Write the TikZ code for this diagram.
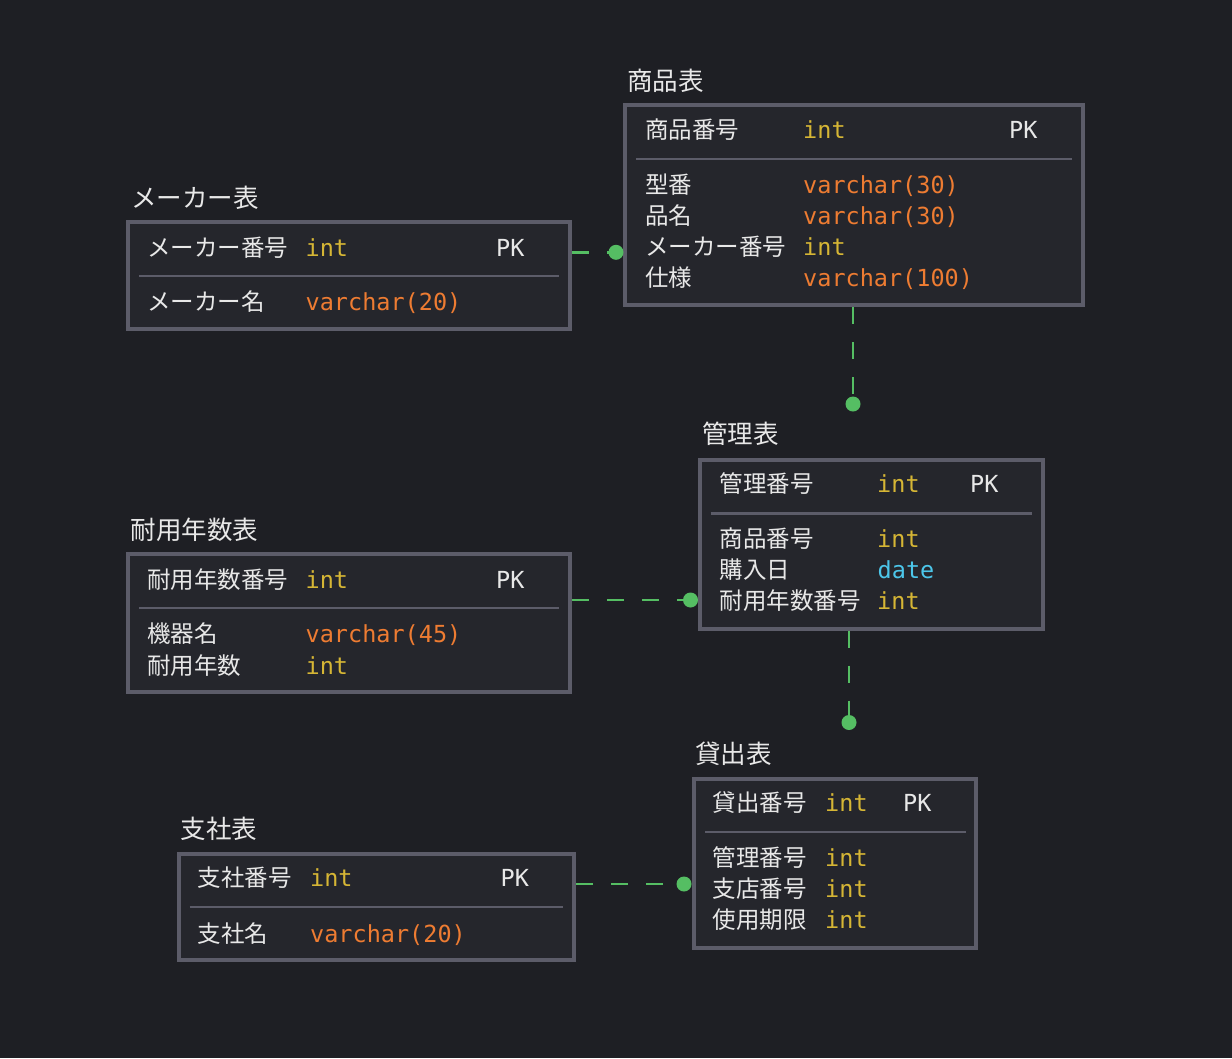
\documentclass[tikz,border=0pt]{standalone}
\usepackage{fontspec}
\newfontfamily\jp{Noto Sans CJK JP}
\newfontfamily\mono{DejaVu Sans Mono}
\definecolor{bg}{HTML}{1E1F24}
\definecolor{boxfill}{HTML}{25262C}
\definecolor{boxline}{HTML}{5C5C69}
\definecolor{txt}{HTML}{E8E8E8}
\definecolor{cint}{HTML}{D6B635}
\definecolor{cvar}{HTML}{EE7C32}
\definecolor{cdate}{HTML}{4CC6EA}
\definecolor{grn}{HTML}{55BE63}
\tikzset{
  tbl/.style={draw=boxline, line width=4pt, fill=boxfill, inner sep=0pt, outer sep=0pt, anchor=north west},
  sepline/.style={draw=boxline, line width=2.4pt},
  ttl/.style={anchor=base west, inner sep=0pt, text=txt, font=\jp\fontsize{25.5}{30}\selectfont, yshift=-9.7pt},
  nm/.style={anchor=base west, inner sep=0pt, text=txt, font=\jp\fontsize{23.5}{28}\selectfont, yshift=-9pt},
  ty/.style={anchor=base west, inner sep=0pt, font=\mono\fontsize{23.5}{28}\selectfont, yshift=-9pt},
  tint/.style={ty, text=cint},
  tvar/.style={ty, text=cvar},
  tdate/.style={ty, text=cdate},
  tpk/.style={ty, text=txt},
  rel/.style={draw=grn, line width=2.4pt, dash pattern=on 17pt off 18pt},
  dotn/.style={circle, fill=grn, inner sep=0pt, outer sep=0pt, minimum size=15pt},
}
\begin{document}
\begin{tikzpicture}[x=1pt,y=-1pt]
\fill[bg] (0,0) rectangle (1232,1058);
\useasboundingbox (0,0) rectangle (1232,1058);

% ---- メーカー表
\node[tbl, minimum width=442pt, minimum height=107pt] (maker) at (128,222) {};
\draw[sepline] (139,275.7) -- (559,275.7);
\node[ttl] (makerT) at (131,197.5) {メーカー表};
\node[nm] (mk1n) at (147,247) {メーカー番号};
\node[tint] (mk1t) at (305.5,247) {int};
\node[tpk] (mk1p) at (496,247) {PK};
\node[nm] (mk2n) at (147,301.5) {メーカー名};
\node[tvar] (mk2t) at (305.5,301.5) {varchar(20)};

% ---- 商品表
\node[tbl, minimum width=458pt, minimum height=200pt] (shohin) at (625,105) {};
\draw[sepline] (636,158.7) -- (1071.5,158.7);
\node[ttl] (shohinT) at (627,80.5) {商品表};
\node[nm] (sh1n) at (645,129.5) {商品番号};
\node[tint] (sh1t) at (803,129.5) {int};
\node[tpk] (sh1p) at (1009,129.5) {PK};
\node[nm] (sh2n) at (645,184) {型番};
\node[tvar] (sh2t) at (803,184) {varchar(30)};
\node[nm] (sh3n) at (645,215) {品名};
\node[tvar] (sh3t) at (803,215) {varchar(30)};
\node[nm] (sh4n) at (645,246) {メーカー番号};
\node[tint] (sh4t) at (803,246) {int};
\node[nm] (sh5n) at (645,277) {仕様};
\node[tvar] (sh5t) at (803,277) {varchar(100)};

% ---- 管理表
\node[tbl, minimum width=342.5pt, minimum height=169pt] (kanri) at (700,459.5) {};
\draw[sepline] (710.7,513.3) -- (1032,513.3);
\node[ttl] (kanriT) at (702,434) {管理表};
\node[nm] (ka1n) at (719.5,483) {管理番号};
\node[tint] (ka1t) at (877,483) {int};
\node[tpk] (ka1p) at (970,483) {PK};
\node[nm] (ka2n) at (719.5,538) {商品番号};
\node[tint] (ka2t) at (877,538) {int};
\node[nm] (ka3n) at (719.5,569) {購入日};
\node[tdate] (ka3t) at (877.5,569) {date};
\node[nm] (ka4n) at (719.5,600) {耐用年数番号};
\node[tint] (ka4t) at (877,600) {int};

% ---- 耐用年数表
\node[tbl, minimum width=442pt, minimum height=138.3pt] (taiyo) at (128,553.7) {};
\draw[sepline] (139,607.7) -- (559,607.7);
\node[ttl] (taiyoT) at (130.5,529.5) {耐用年数表};
\node[nm] (ta1n) at (147,579.5) {耐用年数番号};
\node[tint] (ta1t) at (305.5,579.5) {int};
\node[tpk] (ta1p) at (496,579.5) {PK};
\node[nm] (ta2n) at (147,633.5) {機器名};
\node[tvar] (ta2t) at (305.5,633.5) {varchar(45)};
\node[nm] (ta3n) at (147,665) {耐用年数};
\node[tint] (ta3t) at (305.5,665) {int};

% ---- 貸出表
\node[tbl, minimum width=282pt, minimum height=169.3pt] (kashi) at (694,778.7) {};
\draw[sepline] (705,832) -- (966,832);
\node[ttl] (kashiT) at (695,753.7) {貸出表};
\node[nm] (ks1n) at (712.5,802.5) {貸出番号};
\node[tint] (ks1t) at (825,802.5) {int};
\node[tpk] (ks1p) at (903,802.5) {PK};
\node[nm] (ks2n) at (712.5,857.5) {管理番号};
\node[tint] (ks2t) at (825,857.5) {int};
\node[nm] (ks3n) at (712.5,888.5) {支店番号};
\node[tint] (ks3t) at (825,888.5) {int};
\node[nm] (ks4n) at (712.5,919.5) {使用期限};
\node[tint] (ks4t) at (825,919.5) {int};

% ---- 支社表
\node[tbl, minimum width=395.5pt, minimum height=106.5pt] (shisha) at (178.5,853.7) {};
\draw[sepline] (189.5,906.7) -- (563,906.7);
\node[ttl] (shishaT) at (180.5,828.5) {支社表};
\node[nm] (ss1n) at (197.5,877.5) {支社番号};
\node[tint] (ss1t) at (310,877.5) {int};
\node[tpk] (ss1p) at (500.5,877.5) {PK};
\node[nm] (ss2n) at (197.5,933) {支社名};
\node[tvar] (ss2t) at (310,933) {varchar(20)};

% ---- connectors
\node[dotn] (d1) at (616,252.3) {};
\draw[rel] ([xshift=2pt]maker.east |- d1) -- (d1.center);
\node[dotn] (d2) at (853,404) {};
\draw[rel] ([yshift=-2pt]shohin.south -| d2) -- (d2.center);
\node[dotn] (d3) at (690.5,600) {};
\draw[rel] ([xshift=2pt]taiyo.east |- d3) -- (d3.center);
\node[dotn] (d4) at (849,722.5) {};
\draw[rel] ([yshift=-2pt]kanri.south -| d4) -- (d4.center);
\node[dotn] (d5) at (684,884) {};
\draw[rel] ([xshift=2pt]shisha.east |- d5) -- (d5.center);
\end{tikzpicture}
\end{document}
